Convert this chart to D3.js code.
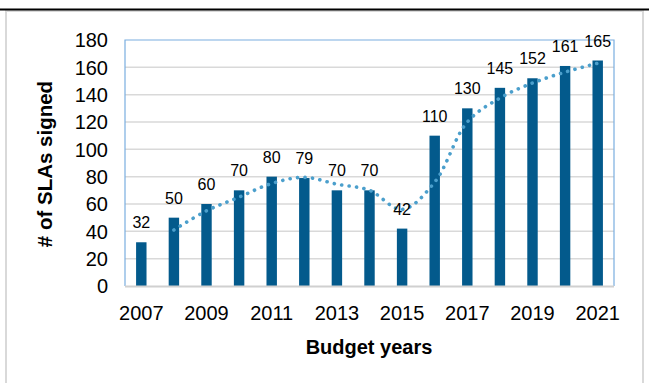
<!DOCTYPE html>
<html>
<head>
<meta charset="utf-8">
<script src="https://cdn.jsdelivr.net/npm/d3@7"></script>
<style>
  body { margin: 0; background: #fff; }
  svg { display: block; font-family: "Liberation Sans", Arial, sans-serif; }
</style>
</head>
<body>
<div class="graphic"></div>
<script>
const years = [2007, 2008, 2009, 2010, 2011, 2012, 2013, 2014, 2015, 2016, 2017, 2018, 2019, 2020, 2021];
const slas = [32, 50, 60, 70, 80, 79, 70, 70, 42, 110, 130, 145, 152, 161, 165];
const yTicks = [0, 20, 40, 60, 80, 100, 120, 140, 160, 180];
const xTickYears = [2007, 2009, 2011, 2013, 2015, 2017, 2019, 2021];

const W = 649, H = 383;
const plot = {left: 125, right: 614, top: 40, bottom: 286};

var svg = d3.select(".graphic")
  .append("svg")
  .attr("width", W)
  .attr("height", H);

// frame round the chart
svg.append("rect")
  .attr("x", 6).attr("y", 11)
  .attr("width", 637).attr("height", 380)
  .attr("fill", "none")
  .attr("stroke", "#d9d9d9")
  .attr("stroke-width", 2);
svg.append("line")
  .attr("x1", 0).attr("x2", W)
  .attr("y1", 9.5).attr("y2", 9.5)
  .attr("stroke", "#000")
  .attr("stroke-width", 2);

var x = d3.scaleBand()
  .domain(years)
  .range([plot.left, plot.right])
  .paddingInner(0.68)
  .paddingOuter(0.34);

var y = d3.scaleLinear()
  .domain([0, 180])
  .range([plot.bottom, plot.top]);

// gridlines
svg.append("g")
  .selectAll("line")
  .data(yTicks.filter(d => d > 0 && d < 180))
  .enter()
  .append("line")
  .attr("x1", plot.left).attr("x2", plot.right)
  .attr("y1", d => y(d)).attr("y2", d => y(d))
  .attr("stroke", "#d9d9d9")
  .attr("stroke-width", 1.5);

// plot area border
svg.append("path")
  .attr("d", `M${plot.left},${plot.bottom}V${plot.top}H${plot.right}V${plot.bottom}`)
  .attr("fill", "none")
  .attr("stroke", "#7aaee0")
  .attr("stroke-width", 1.2);

// bars
svg.append("g")
  .selectAll("rect")
  .data(years)
  .enter()
  .append("rect")
  .attr("x", d => x(d))
  .attr("y", (d, i) => y(slas[i]))
  .attr("width", x.bandwidth())
  .attr("height", (d, i) => y(0) - y(slas[i]))
  .attr("fill", "#035a8c");

// x axis line
svg.append("line")
  .attr("x1", plot.left).attr("x2", plot.right)
  .attr("y1", plot.bottom + 0.5).attr("y2", plot.bottom + 0.5)
  .attr("stroke", "#d0d0d0")
  .attr("stroke-width", 2);

// 2-period moving average trend
var trend = years.slice(1).map((yr, i) => ({year: yr, v: (slas[i] + slas[i + 1]) / 2}));
svg.append("path")
  .datum(trend)
  .attr("d", d3.line()
    .x(d => x(d.year) + x.bandwidth() / 2)
    .y(d => y(d.v))
    .curve(d3.curveCatmullRom.alpha(0.5)))
  .attr("fill", "none")
  .attr("stroke", "#4b9fcc")
  .attr("stroke-width", 3.6)
  .attr("stroke-linecap", "round")
  .attr("stroke-dasharray", "0.1,7.4");

// data labels
svg.append("g")
  .selectAll("text")
  .data(years)
  .enter()
  .append("text")
  .attr("x", d => x(d) + x.bandwidth() / 2)
  .attr("y", (d, i) => y(slas[i]) - 14)
  .attr("text-anchor", "middle")
  .style("font-size", "16px")
  .attr("fill", "#000")
  .text((d, i) => slas[i]);

// y tick labels
svg.append("g")
  .selectAll("text")
  .data(yTicks)
  .enter()
  .append("text")
  .attr("x", 108)
  .attr("y", d => y(d))
  .attr("dy", "0.36em")
  .attr("text-anchor", "end")
  .style("font-size", "20px")
  .text(d => d);

// x tick labels
svg.append("g")
  .selectAll("text")
  .data(xTickYears)
  .enter()
  .append("text")
  .attr("x", d => x(d) + x.bandwidth() / 2)
  .attr("y", 320)
  .attr("text-anchor", "middle")
  .style("font-size", "20px")
  .text(d => d);

// axis titles
svg.append("text")
  .attr("x", 369).attr("y", 354)
  .attr("text-anchor", "middle")
  .style("font-size", "20px").style("font-weight", "bold")
  .text("Budget years");

svg.append("text")
  .attr("transform", "translate(52,164) rotate(-90)")
  .attr("text-anchor", "middle")
  .style("font-size", "20.5px").style("font-weight", "bold")
  .text("# of SLAs signed");
</script>
</body>
</html>
